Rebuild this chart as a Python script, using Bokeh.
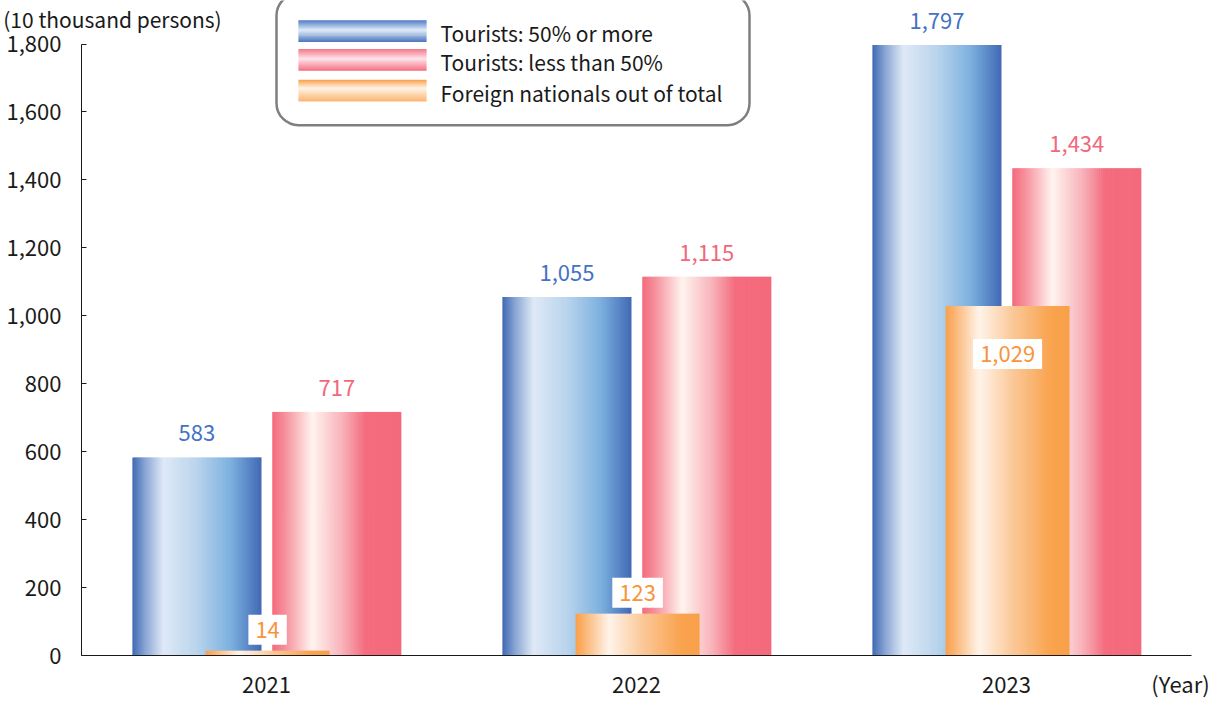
import numpy as np
from bokeh.plotting import figure
from bokeh.models import Range1d, FixedTicker, NumeralTickFormatter, LinearAxis, ColumnDataSource
from bokeh.core.properties import value
from bokeh.embed import file_html
from bokeh.resources import INLINE

# ---------------- data ----------------
years = ["2021", "2022", "2023"]
tourists_50_or_more = [583, 1055, 1797]
tourists_less_than_50 = [717, 1115, 1434]
foreign_nationals = [14, 123, 1029]
series_names = ["Tourists: 50% or more", "Tourists: less than 50%", "Foreign nationals out of total"]
y_tick_values = [0, 200, 400, 600, 800, 1000, 1200, 1400, 1600, 1800]
y_axis_title = "(10 thousand persons)"
x_axis_title = "(Year)"

# ---------------- layout ----------------
FONT = "Noto Sans CJK JP"
NUM_SIZE = "22px"
LEG_SIZE = "21px"
W, H = 1216, 701
B_LEFT, B_RIGHT, B_TOP, B_BOTTOM = 81, 25, 0, 39
FRAME_W = W - B_LEFT - B_RIGHT
FRAME_H = H - B_TOP - B_BOTTOM
Y_MAX_PX = 44                      # pixel row of the top tick inside the frame
PPV = (FRAME_H - Y_MAX_PX) / y_tick_values[-1]
Y_TOP = y_tick_values[-1] + Y_MAX_PX / PPV
NCAT = len(years)


def x_of(px):
    return round((px - B_LEFT) / FRAME_W * NCAT, 5)


def y_of(py):
    return (FRAME_H - py) / PPV


def hex2rgb(h):
    h = h.lstrip("#")
    return np.array([int(h[i:i + 2], 16) for i in (0, 2, 4)], dtype=float)


def interp(stops, t):
    for (p0, c0), (p1, c1) in zip(stops[:-1], stops[1:]):
        if p0 <= t <= p1:
            f = 0 if p1 == p0 else (t - p0) / (p1 - p0)
            c = hex2rgb(c0) * (1 - f) + hex2rgb(c1) * f
            return "#%02x%02x%02x" % tuple(int(round(v)) for v in c)
    return stops[-1][1]


blue_stops = [(0, "#3e68b4"), (0.1, "#8aa6d4"), (0.24, "#dfe9f6"), (0.5, "#b9d4ec"),
              (0.76, "#7db1df"), (1.0, "#4169b5")]
pink_stops = [(0, "#f46a7c"), (0.1, "#f6909c"), (0.31, "#fff4ef"), (0.55, "#f8b0b8"),
              (0.72, "#f46c7e"), (1.0, "#f46a7c")]
orange_stops = [(0, "#f9a04a"), (0.1, "#fbbd83"), (0.27, "#fff4ea"), (0.55, "#fbc796"),
                (0.85, "#f9a34e"), (1.0, "#f9a04a")]

blue_leg = [(0, "#4472c4"), (0.45, "#deebf7"), (1.0, "#4a74be")]
pink_leg = [(0, "#f47686"), (0.45, "#ffe4ee"), (1.0, "#f47080")]
orange_leg = [(0, "#f9a04a"), (0.4, "#fff3e6"), (1.0, "#fbb46e")]

series = [
    (tourists_50_or_more, -0.188, 0.349, blue_stops, "#4472c4"),
    (tourists_less_than_50, 0.190, 0.349, pink_stops, "#f2687b"),
    (foreign_nationals, 0.003, 0.335, orange_stops, "#f7953b"),
]

p = figure(width=W, height=H, x_range=Range1d(0, NCAT), y_range=Range1d(0, Y_TOP),
           output_backend="svg", toolbar_location=None,
           min_border_left=B_LEFT, min_border_right=B_RIGHT,
           min_border_top=B_TOP, min_border_bottom=B_BOTTOM)
p.outline_line_color = None
p.grid.visible = False
p.background_fill_color = "white"

NS = 64
for vals, off, width, stops, _ in series:
    L, R, T, C = [], [], [], []
    for i, v in enumerate(vals):
        c = i + 0.5 + off
        x0 = c - width / 2
        step = width / NS
        for k in range(NS):
            t = (k + 0.5) / NS
            L.append(x0 + step * k)
            R.append(x0 + step * (k + 1) + (step * 0.6 if k < NS - 1 else 0))
            T.append(v)
            C.append(interp(stops, t))
    src = ColumnDataSource(dict(left=L, right=R, top=T, bottom=[0] * len(L), color=C))
    p.quad(left="left", right="right", top="top", bottom="bottom", source=src,
           fill_color="color", line_color=None)

# value labels
for idx, (vals, off, width, stops, col) in enumerate(series):
    xs = [i + 0.5 + off for i in range(NCAT)]
    txt = ["{:,}".format(v) for v in vals]
    if idx < 2:
        p.text(x=xs, y=vals, text=txt, text_font=value(FONT), text_font_size=NUM_SIZE,
               text_color=col, text_align="center", text_baseline="middle", y_offset=-24)
    else:
        yoff = [48 if v > 500 else -21 for v in vals]
        src = ColumnDataSource(dict(x=xs, y=vals, text=txt, yo=yoff))
        p.text(x="x", y="y", text="text", y_offset="yo", source=src,
               text_font=value(FONT), text_font_size=NUM_SIZE, text_color=col,
               text_align="center", text_baseline="middle",
               background_fill_color="white", padding=7)

# legend frame
p.quad(left=x_of(276), right=x_of(749), top=y_of(-7), bottom=y_of(126),
       fill_color="white", line_color="#7f7f7f", line_width=2.5, border_radius=22)

leg_rows = [(20, 42, blue_leg), (49, 71, pink_leg), (80, 102, orange_leg)]
NL = 22
for top_px, bot_px, stops in leg_rows:
    L, R, T, B, C = [], [], [], [], []
    for k in range(NL):
        t = (k + 0.5) / NL
        py0 = top_px + (bot_px - top_px) * k / NL
        py1 = top_px + (bot_px - top_px) * (k + 1) / NL + (0.5 if k < NL - 1 else 0)
        L.append(x_of(298)); R.append(x_of(426))
        T.append(y_of(py0)); B.append(y_of(py1))
        C.append(interp(stops, t))
    src = ColumnDataSource(dict(left=L, right=R, top=T, bottom=B, color=C))
    p.quad(left="left", right="right", top="top", bottom="bottom", source=src,
           fill_color="color", line_color=None)

p.text(x=[x_of(440)] * 3, y=[y_of((a + b) / 2 + 2) for a, b, _ in leg_rows], text=series_names,
       text_font=value(FONT), text_font_size=LEG_SIZE, text_color="#1a1a1a",
       text_baseline="middle", text_align="left")

# axes
ya = p.yaxis[0]
ya.ticker = FixedTicker(ticks=y_tick_values)
ya.formatter = NumeralTickFormatter(format="0,0")
ya.bounds = (0, y_tick_values[-1])
ya.major_tick_in = 5
ya.major_tick_out = 0
ya.minor_tick_in = 0
ya.minor_tick_out = 0
ya.major_label_standoff = 20
ya.major_label_text_font = FONT
ya.major_label_text_font_size = NUM_SIZE
ya.major_label_text_color = "#1a1a1a"
ya.axis_line_color = "#1a1a1a"
ya.major_tick_line_color = "#1a1a1a"

year_ticks = [i + 0.5 for i in range(NCAT)]
year_title_tick = x_of(1180)
xa = p.xaxis[0]
xa.ticker = FixedTicker(ticks=year_ticks + [year_title_tick])
overrides = {t: y for t, y in zip(year_ticks, years)}
overrides[year_title_tick] = x_axis_title
xa.major_label_overrides = overrides
xa.major_tick_in = 0
xa.major_tick_out = 0
xa.minor_tick_in = 0
xa.minor_tick_out = 0
xa.major_label_standoff = 11
xa.major_label_text_font = FONT
xa.major_label_text_font_size = NUM_SIZE
xa.major_label_text_color = "#1a1a1a"
xa.axis_line_color = "#1a1a1a"

# unit title of the value axis: label of a zero-height axis along the top edge
unit_tick = x_of(112)
unit_axis = LinearAxis(ticker=FixedTicker(ticks=[unit_tick]),
                       major_label_overrides={unit_tick: y_axis_title},
                       axis_line_color=None, major_tick_line_color=None,
                       minor_tick_line_color=None, major_tick_in=0, major_tick_out=0,
                       minor_tick_in=0, minor_tick_out=0,
                       major_label_standoff=-33, major_label_text_font=FONT,
                       major_label_text_font_size=LEG_SIZE, major_label_text_color="#1a1a1a")
p.add_layout(unit_axis, "above")

open("out.html", "w").write(file_html(p, INLINE))
